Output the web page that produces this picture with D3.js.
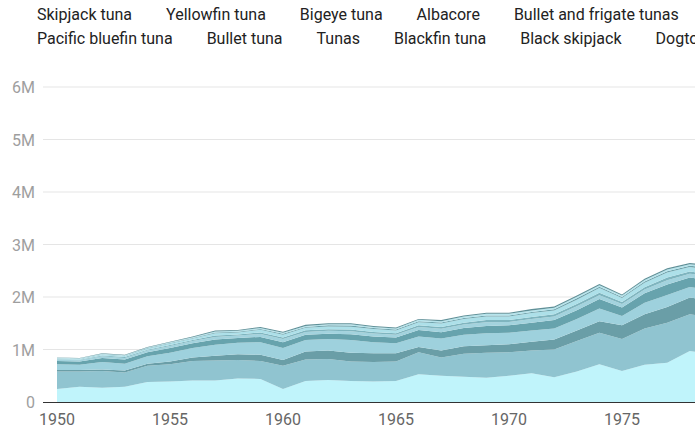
<!DOCTYPE html>
<html><head><meta charset="utf-8">
<script src="https://cdn.jsdelivr.net/npm/d3@7"></script>
<style>html,body{margin:0;padding:0;background:#fff;overflow:hidden}svg{display:block;font-family:Roboto,"Noto Sans",sans-serif}</style>
</head><body><svg id="c" width="695" height="430"></svg>
<script>
const years = d3.range(1950, 1980);
const seriesNames = ["Skipjack tuna","Yellowfin tuna","Bigeye tuna","Albacore","Bullet and frigate tunas","Pacific bluefin tuna","Bullet tuna","Tunas","Blackfin tuna","Black skipjack","Dogtooth tuna"];
// values in million tonnes
const skipjack = [0.25,0.29,0.27,0.29,0.38,0.39,0.41,0.41,0.45,0.44,0.25,0.40,0.42,0.40,0.39,0.40,0.53,0.50,0.48,0.46,0.50,0.55,0.47,0.58,0.72,0.59,0.71,0.75,0.97,0.92];
const yellowfin = [0.33,0.29,0.32,0.27,0.31,0.33,0.37,0.38,0.35,0.34,0.44,0.41,0.40,0.37,0.37,0.37,0.42,0.35,0.44,0.48,0.45,0.43,0.53,0.58,0.60,0.61,0.69,0.76,0.70,0.70];
const bigeye = [0.03,0.03,0.03,0.04,0.04,0.05,0.07,0.09,0.11,0.12,0.11,0.15,0.16,0.17,0.17,0.16,0.10,0.13,0.14,0.14,0.15,0.17,0.19,0.20,0.22,0.26,0.27,0.30,0.32,0.31];
const albacore = [0.11,0.10,0.14,0.13,0.14,0.17,0.18,0.21,0.22,0.24,0.23,0.22,0.22,0.24,0.21,0.19,0.20,0.23,0.22,0.23,0.22,0.21,0.21,0.22,0.24,0.18,0.22,0.23,0.20,0.21];
const bulletFrigate = [0.06,0.06,0.08,0.08,0.08,0.09,0.09,0.10,0.09,0.10,0.11,0.10,0.10,0.11,0.11,0.11,0.12,0.12,0.13,0.14,0.14,0.15,0.16,0.17,0.18,0.16,0.18,0.20,0.18,0.18];
const pacificBluefin = [0.025,0.025,0.03,0.03,0.03,0.035,0.04,0.05,0.045,0.055,0.06,0.055,0.055,0.06,0.055,0.05,0.06,0.065,0.065,0.07,0.065,0.07,0.07,0.075,0.075,0.065,0.075,0.08,0.075,0.075];
const bulletTuna = [0.01,0.01,0.015,0.015,0.015,0.02,0.02,0.025,0.02,0.03,0.03,0.03,0.03,0.03,0.03,0.03,0.03,0.035,0.035,0.04,0.035,0.04,0.04,0.04,0.045,0.04,0.04,0.05,0.04,0.04];
const tunas = [0.015,0.015,0.02,0.02,0.025,0.03,0.03,0.045,0.04,0.05,0.05,0.05,0.055,0.055,0.055,0.05,0.06,0.065,0.07,0.07,0.07,0.075,0.075,0.085,0.09,0.075,0.085,0.095,0.085,0.085];
const blackfin = [0.005,0.005,0.005,0.005,0.01,0.01,0.01,0.015,0.015,0.015,0.02,0.015,0.02,0.02,0.02,0.02,0.02,0.02,0.02,0.02,0.02,0.02,0.02,0.025,0.025,0.02,0.025,0.025,0.025,0.025];
const blackSkipjack = [0.01,0.01,0.01,0.01,0.01,0.015,0.015,0.02,0.015,0.02,0.02,0.02,0.02,0.025,0.02,0.02,0.025,0.025,0.03,0.03,0.03,0.03,0.03,0.03,0.03,0.03,0.03,0.035,0.03,0.03];
const dogtooth = [0.005,0.005,0.01,0.01,0.01,0.01,0.015,0.015,0.015,0.02,0.02,0.02,0.02,0.02,0.02,0.02,0.015,0.02,0.02,0.02,0.02,0.025,0.025,0.025,0.025,0.02,0.025,0.025,0.025,0.025];
const yTicks = [0,1e6,2e6,3e6,4e6,5e6,6e6];
const yTickLabels = ["0","1M","2M","3M","4M","5M","6M"];
const xTicks = [1950,1955,1960,1965,1970,1975];
const colors = ["#c0f4fb","#90c4d0","#6a9ea7","#9ed1dd","#67a3ad","#a3d3de","#7fb5bf","#ade0e9","#6fa3ac","#b5e4ec","#5f9098"];

const allSeries = [skipjack,yellowfin,bigeye,albacore,bulletFrigate,pacificBluefin,bulletTuna,tunas,blackfin,blackSkipjack,dogtooth];
const rows = years.map((y,i)=>{const r={year:y}; seriesNames.forEach((n,k)=>r[n]=allSeries[k][i]*1e6); return r;});

const svg = d3.select("#c");
const W = 695;
const x = d3.scaleLinear().domain([1950,1979]).range([57, 57+29*22.6]);
const y = d3.scaleLinear().domain([0,6e6]).range([402, 87]);

// grid
svg.append("g").selectAll("line").data(yTicks.slice(1)).join("line")
  .attr("x1",43).attr("x2",W).attr("y1",d=>y(d)).attr("y2",d=>y(d))
  .attr("stroke","#e5e5e5").attr("stroke-width",1);
svg.append("g").selectAll("text").data(yTicks).join("text")
  .attr("x",35).attr("y",d=>y(d)+6).attr("text-anchor","end")
  .attr("font-size",16).attr("fill","#9e9e9e").text((d,i)=>yTickLabels[i]);

const stack = d3.stack().keys(seriesNames);
const layers = stack(rows);
const area = d3.area().x(d=>x(d.data.year)).y0(d=>y(d[0])).y1(d=>y(d[1]));
svg.append("g").selectAll("path").data(layers).join("path")
  .attr("d",area).attr("fill",(d,i)=>colors[i]);

// baseline
svg.append("line").attr("x1",43).attr("x2",W).attr("y1",y(0)+0.5).attr("y2",y(0)+0.5).attr("stroke","#333").attr("stroke-width",1);
svg.append("g").selectAll("text").data(xTicks).join("text")
  .attr("x",d=>x(d)).attr("y",425).attr("text-anchor","middle")
  .attr("font-size",16).attr("fill","#666").text(d=>d);

// legend
const lg = svg.append("g");
let lx = 37, ly = 20; const gap = 34, maxW = 800;
seriesNames.forEach(n=>{
  const t = lg.append("text").attr("font-size",16).attr("fill","#222").text(n);
  const w = t.node().getComputedTextLength();
  if (lx + w > maxW) { lx = 37; ly += 24; }
  t.attr("x",lx).attr("y",ly);
  lx += w + gap;
});
</script></body></html>
